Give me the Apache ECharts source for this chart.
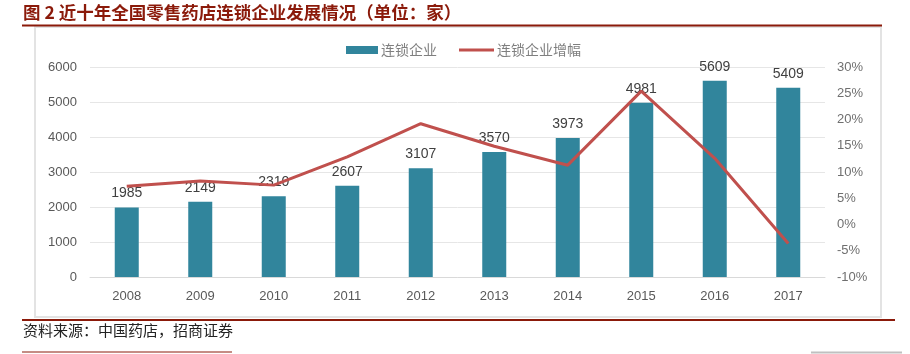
<!DOCTYPE html>
<html>
<head>
<meta charset="utf-8">
<script src="https://cdn.jsdelivr.net/npm/echarts@6/dist/echarts.min.js"></script>
<style>
  html, body { margin: 0; padding: 0; background: #fff; }
  #chart { width: 910px; height: 354px; }
</style>
</head>
<body>
<div id="chart"></div>
<script>
const years = ['2008', '2009', '2010', '2011', '2012', '2013', '2014', '2015', '2016', '2017']
// 连锁企业数量（家）
const chainStores = [1985, 2149, 2310, 2607, 3107, 3570, 3973, 4981, 5609, 5409]
// 连锁企业增幅（%）
const chainGrowth = [7.3, 8.3, 7.5, 12.9, 19.2, 14.9, 11.3, 25.4, 12.6, -3.6]

const chart = echarts.init(document.getElementById('chart'))
const labelFont = '"Liberation Sans", "Noto Sans CJK SC", sans-serif'
const cjkFont = '"Noto Sans CJK SC", sans-serif'
const darkRed = '#8b1a0a'

chart.setOption({
  animation: false,
  graphic: [
    {
      type: 'rect',
      shape: { x: 35, y: 27, width: 846, height: 290 },
      style: { fill: '#fff', stroke: '#e3e3e3', lineWidth: 2 },
      z: -10
    },
    {
      type: 'text',
      left: 23, top: 4,
      style: {
        text: '图 2 近十年全国零售药店连锁企业发展情况（单位：家）',
        fill: darkRed,
        font: 'bold 17.5px ' + cjkFont
      }
    },
    {
      type: 'line',
      shape: { x1: 22, y1: 25.5, x2: 882, y2: 25.5 },
      style: { stroke: darkRed, lineWidth: 2 }
    },
    {
      type: 'line',
      shape: { x1: 22, y1: 320, x2: 895, y2: 320 },
      style: { stroke: darkRed, lineWidth: 2 }
    },
    {
      type: 'text',
      left: 23, top: 323,
      style: {
        text: '资料来源：中国药店，招商证券',
        fill: '#222',
        font: '15px ' + cjkFont
      }
    },
    {
      type: 'line',
      shape: { x1: 22, y1: 352, x2: 232, y2: 352 },
      style: { stroke: darkRed, lineWidth: 1 }
    },
    {
      type: 'line',
      shape: { x1: 811, y1: 352.5, x2: 902, y2: 352.5 },
      style: { stroke: '#c0c0c0', lineWidth: 2 }
    }
  ],
  legend: [
    {
      top: 38,
      left: 341,
      itemWidth: 32,
      itemHeight: 8,
      itemGap: 4,
      textStyle: { color: '#7f7f7f', fontSize: 14, fontFamily: cjkFont, padding: [0, 0, 0, -2] },
      data: [{ name: '连锁企业', icon: 'rect' }]
    },
    {
      top: 38,
      left: 454,
      itemWidth: 35,
      itemHeight: 3,
      textStyle: { color: '#7f7f7f', fontSize: 14, fontFamily: cjkFont, padding: [0, 0, 0, -2] },
      data: [{ name: '连锁企业增幅', icon: 'rect' }]
    }
  ],
  grid: { left: 90, right: 85, top: 67, bottom: 77 },
  xAxis: {
    type: 'category',
    data: years,
    axisLine: { lineStyle: { color: '#d9d9d9' } },
    axisTick: { show: false },
    axisLabel: { color: '#595959', fontSize: 13, fontFamily: labelFont, margin: 13 }
  },
  yAxis: [
    {
      type: 'value',
      min: 0, max: 6000, interval: 1000,
      axisLine: { show: false },
      axisTick: { show: false },
      splitLine: { lineStyle: { color: '#e6e6e6' } },
      axisLabel: { color: '#595959', fontSize: 13, fontFamily: labelFont, margin: 13, formatter: v => String(v) }
    },
    {
      type: 'value',
      min: -10, max: 30, interval: 5,
      axisLine: { show: false },
      axisTick: { show: false },
      splitLine: { show: false },
      axisLabel: { color: '#6f6f6f', fontSize: 13, fontFamily: labelFont, margin: 12, formatter: '{value}%' }
    }
  ],
  series: [
    {
      name: '连锁企业',
      type: 'bar',
      barWidth: 24,
      data: chainStores,
      itemStyle: { color: '#31859c' },
      label: {
        show: true,
        position: 'top',
        distance: 7,
        color: '#404040',
        fontSize: 14,
        fontFamily: labelFont
      }
    },
    {
      name: '连锁企业增幅',
      type: 'line',
      yAxisIndex: 1,
      data: chainGrowth,
      symbol: 'none',
      lineStyle: { color: '#c0504d', width: 3 },
      itemStyle: { color: '#c0504d' }
    }
  ]
})
</script>
</body>
</html>
